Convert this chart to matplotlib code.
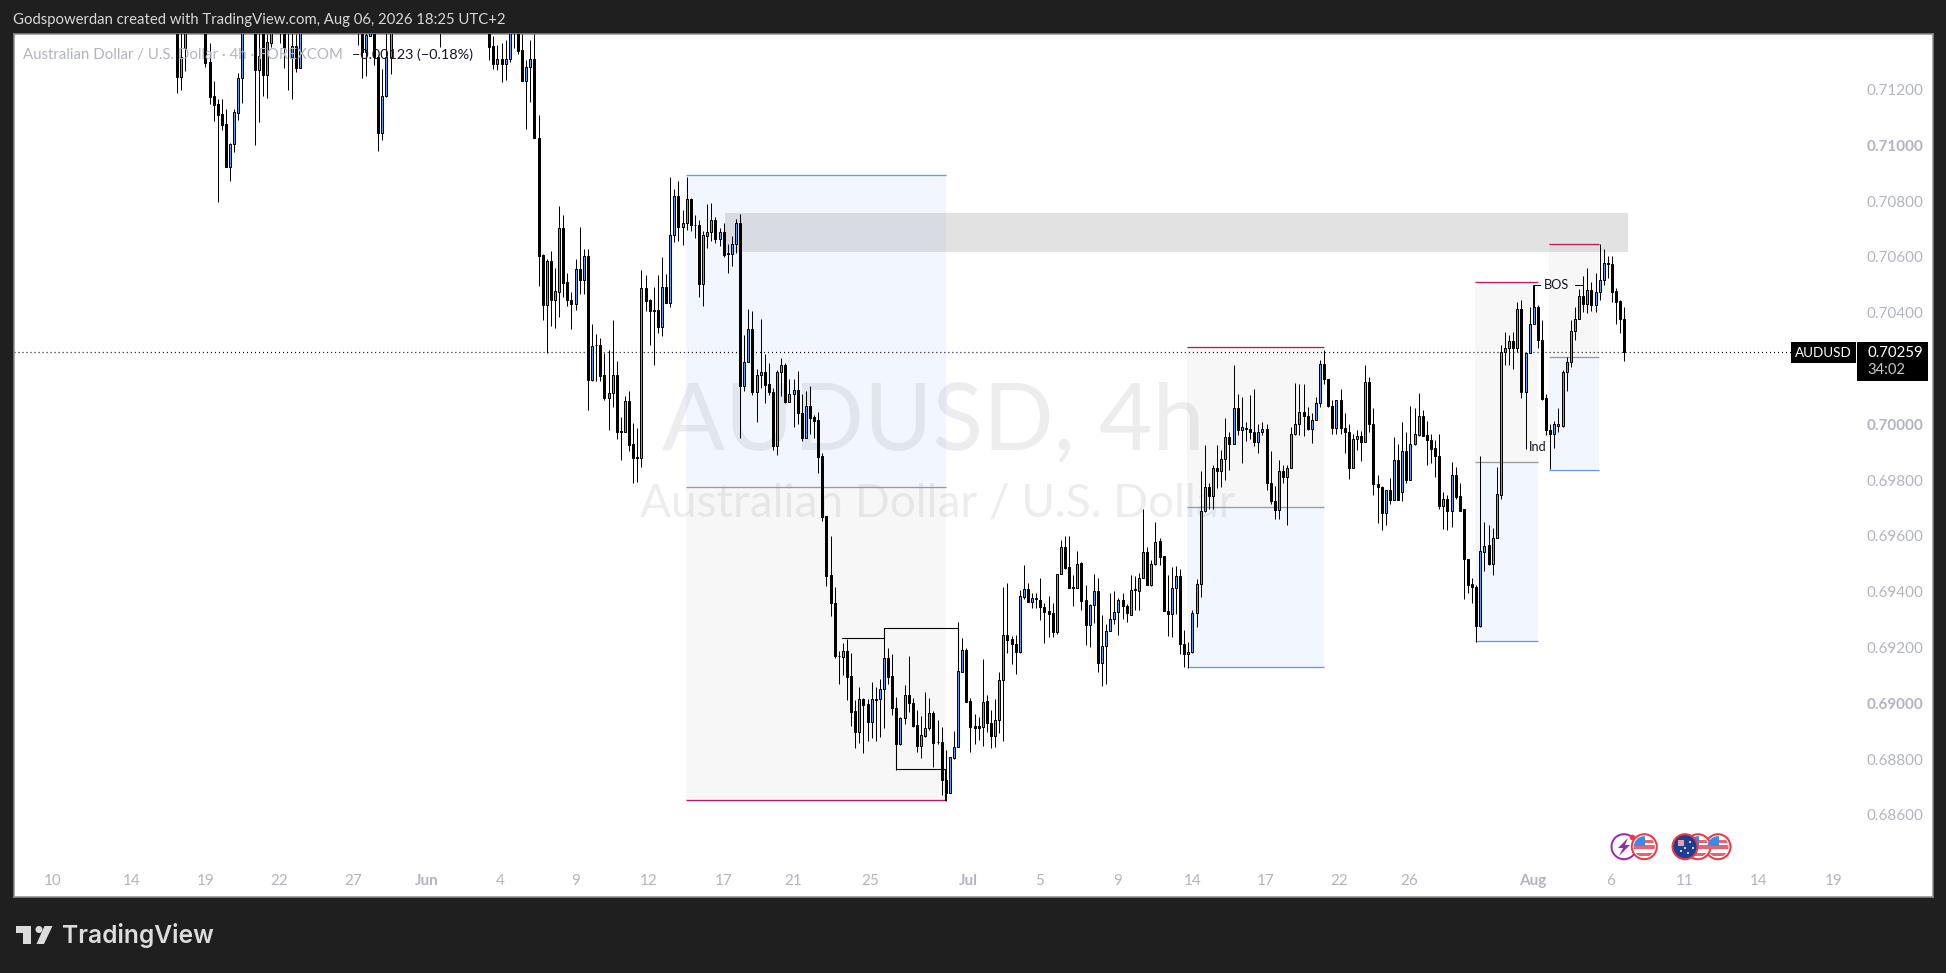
from matplotlib import pyplot as plt
from matplotlib.patches import Circle, Polygon, Rectangle

na = float('nan')

# prices in 1e-5 units, na = bar sits above the visible range
opens = [
    71450, 71246, 71348, na, na, na, na, 71420, 71298, 71176, 71148, 71112, 71076, 70923, 71005, 71117, 71243, na, na, 71440,
    71270, 71420, 71252, 71368, na, 71450, 71450, 71430, 71317, 71356, 71278, na, na, na, na, na, na, na, na, na,
    na, na, na, na, 71430, 71440, 71335, 71392, 71440, 71317, 71043, 71176, 71317, na, na, na, na, na, na, na,
    na, na, na, na, 71430, na, na, na, na, na, na, na, na, na, na, na,
    71430, 71356, 71290, 71308, 71293, 71311, 71430, 71430, 71341, 71231, 71279, 71308, 71028, 70606, 70427, 70585, 70445, 70475, 70702, 70510,
    70447, 70431, 70555, 70517, 70602, 70158, 70286, 70286, 70176, 70094, 70113, 70176, 69975, 69973, 70082, 69929, 69882, 69880, 70487, 70445,
    70410, 70409, 70350, 70491, 70436, 70677, 70817, 70708, 70720, 70806, 70716, 70713, 70502, 70676, 70690, 70734, 70664, 70688, 70614, 70612,
    70648, 70720, 70137, 70224, 70340, 70116, 70178, 70189, 70143, 70116, 69923, 70186, 70214, 70080, 70110, 70122, 70042, 69951, 70067, 70025,
    70014, 69886, 69671, 69460, 69361, 69171, 69167, 69187, 69097, 68972, 68898, 69014, 68996, 68934, 69015, 69014, 69050, 69161, 69097, 68982,
    68856, 68949, 69029, 69003, 68922, 68848, 68884, 68910, 68964, 68862, 68863, 68727, 68679, 68805, 68842, 69113, 69193, 69008, 68918, 68918,
    68916, 69008, 68928, 68884, 68942, 69085, 69244, 69230, 69214, 69185, 69382, 69409, 69364, 69378, 69372, 69344, 69330, 69323, 69256, 69462,
    69562, 69488, 69418, 69415, 69503, 69369, 69281, 69351, 69402, 69145, 69204, 69261, 69301, 69329, 69370, 69349, 69316, 69409, 69403, 69451,
    69541, 69426, 69498, 69583, 69527, 69332, 69322, 69415, 69457, 69214, 69178, 69184, 69325, 69429, 69690, 69777, 69744, 69845, 69833, 69877,
    69955, 69931, 70060, 69981, 69987, 69985, 69974, 69938, 69971, 69985, 69788, 69727, 69692, 69834, 69812, 69845, 69967, 70003, 70046, 70030,
    69984, 70017, 70075, 70218, 70161, 70065, 69987, 70089, 69987, 69971, 69844, 69947, 69960, 69938, 70150, 70002, 69787, 69777, 69683, 69766,
    69728, 69874, 69756, 69904, 69800, 69928, 69961, 70029, 69961, 69945, 69915, 69888, 69706, 69732, 69689, 69817, 69742, 69695, 69519, 69429,
    69417, 69276, 69543, 69567, 69500, 69594, 69748, 70260, 70274, 70297, 70272, 70415, 70116, 70254, 70359, 70420, 70304, 70093, 69981, 69967,
    69995, 69995, 70189, 70225, 70333, 70379, 70461, 70433, 70483, 70428, 70475, 70517, 70577, 70573, 70477, 70441, 70379,
]
highs = [
    71500, 71420, 71480, na, na, na, na, 71480, 71365, 71230, 71166, 71166, 71130, 71010, 71131, 71258, 71470, na, na, 71490,
    71420, 71460, 71400, 71440, na, 71480, 71480, 71470, 71420, 71400, 71450, na, na, na, na, na, na, na, na, na,
    na, na, na, na, 71450, 71480, 71420, 71430, 71470, 71323, 71272, 71420, 71450, na, na, na, na, na, na, na,
    na, na, na, na, 71460, na, na, na, na, na, na, na, na, na, na, na,
    71470, 71391, 71359, 71365, 71377, 71440, 71450, 71460, 71399, 71305, 71377, 71399, 71108, 70610, 70591, 70621, 70562, 70782, 70750, 70543,
    70475, 70592, 70708, 70628, 70628, 70359, 70323, 70311, 70256, 70266, 70373, 70226, 70027, 70101, 70119, 70005, 69987, 70553, 70535, 70451,
    70491, 70535, 70598, 70538, 70885, 70845, 70872, 70767, 70886, 70810, 70750, 70734, 70692, 70789, 70795, 70744, 70704, 70723, 70646, 70676,
    70735, 70753, 70319, 70415, 70406, 70200, 70377, 70251, 70220, 70132, 70196, 70239, 70220, 70161, 70161, 70190, 70108, 70119, 70137, 70035,
    70046, 69898, 69671, 69599, 69418, 69188, 69218, 69232, 69179, 69011, 69058, 69021, 69017, 69075, 69059, 69089, 69268, 69200, 69176, 69023,
    68952, 69065, 69169, 69021, 68975, 68955, 69041, 69021, 68973, 68940, 68916, 68832, 68806, 68900, 69292, 69236, 69197, 69021, 68961, 68952,
    69158, 69029, 68978, 69014, 69111, 69418, 69430, 69242, 69244, 69406, 69495, 69430, 69394, 69394, 69448, 69361, 69384, 69358, 69465, 69587,
    69599, 69599, 69459, 69546, 69507, 69424, 69356, 69462, 69451, 69316, 69284, 69394, 69403, 69376, 69394, 69355, 69459, 69456, 69469, 69695,
    69561, 69513, 69649, 69591, 69527, 69459, 69489, 69493, 69480, 69262, 69220, 69334, 69447, 69833, 69925, 69791, 69854, 69925, 69907, 70024,
    69973, 70212, 70108, 70099, 70009, 70104, 70126, 70003, 70009, 70003, 69905, 69778, 69872, 69854, 69854, 69989, 70149, 70146, 70144, 70063,
    70039, 70099, 70230, 70266, 70164, 70087, 70089, 70125, 70039, 70003, 69967, 69979, 69975, 70212, 70168, 70057, 69820, 69778, 69766, 69806,
    69953, 69931, 70009, 69973, 70065, 70057, 70113, 70053, 70012, 69967, 69943, 69965, 69758, 69746, 69865, 69848, 69790, 69698, 69519, 69451,
    69423, 69886, 69650, 69638, 69630, 69848, 70284, 70332, 70320, 70332, 70439, 70445, 70256, 70421, 70499, 70427, 70373, 70108, 70000, 70012,
    70057, 70194, 70242, 70373, 70419, 70485, 70531, 70559, 70511, 70541, 70645, 70630, 70603, 70603, 70487, 70445, 70421,
]
lows = [
    71188, 71200, 71267, na, na, na, na, 71279, 71148, 71088, 70798, 71055, 70923, 70873, 70977, 71090, 71152, na, na, 71001,
    71084, 71178, 71168, 71353, na, 71365, 71276, 71198, 71166, 71264, 71278, na, na, na, na, na, na, na, na, na,
    na, na, na, na, 71359, 71242, 71248, 71392, 71288, 70980, 71019, 71174, 71254, na, na, na, na, na, na, na,
    na, na, na, na, 71351, na, na, na, na, na, na, na, na, na, na, na,
    71305, 71272, 71270, 71228, 71234, 71299, 71350, 71327, 71231, 71058, 71156, 71027, 70495, 70373, 70254, 70352, 70346, 70385, 70457, 70425,
    70341, 70409, 70467, 70467, 70051, 70156, 70156, 70156, 70089, 69979, 70063, 69948, 69872, 69973, 69904, 69790, 69794, 69848, 70406, 70284,
    70212, 70326, 70317, 70436, 70421, 70654, 70658, 70642, 70696, 70692, 70669, 70457, 70424, 70633, 70658, 70650, 70639, 70600, 70543, 70567,
    70615, 69951, 70120, 70224, 70104, 70009, 70131, 70077, 70104, 69907, 69889, 70101, 70077, 70080, 69991, 70000, 69941, 69951, 69965, 69951,
    69826, 69654, 69421, 69314, 69163, 69070, 69101, 69011, 68919, 68841, 68858, 68823, 68866, 68876, 68864, 68880, 68910, 69071, 68959, 68760,
    68850, 68925, 68970, 68916, 68826, 68805, 68878, 68906, 68772, 68856, 68671, 68650, 68677, 68802, 68842, 69113, 69005, 68826, 68856, 68868,
    68848, 68898, 68841, 68844, 68894, 68866, 69182, 69140, 69105, 69179, 69375, 69362, 69342, 69340, 69298, 69217, 69238, 69238, 69250, 69462,
    69480, 69414, 69350, 69415, 69334, 69210, 69203, 69289, 69111, 69063, 69068, 69259, 69283, 69246, 69304, 69290, 69316, 69334, 69334, 69451,
    69424, 69420, 69495, 69495, 69332, 69241, 69238, 69322, 69178, 69131, 69127, 69182, 69274, 69382, 69686, 69698, 69696, 69773, 69776, 69802,
    69838, 69931, 69961, 69862, 69941, 69946, 69923, 69899, 69961, 69764, 69716, 69662, 69662, 69790, 69638, 69844, 69961, 69961, 69957, 69979,
    69934, 70015, 70063, 70144, 70063, 69967, 69967, 69967, 69898, 69805, 69842, 69907, 69869, 69937, 69973, 69746, 69647, 69623, 69638, 69714,
    69728, 69728, 69726, 69788, 69800, 69925, 69957, 69957, 69854, 69860, 69812, 69695, 69626, 69623, 69632, 69734, 69690, 69374, 69394, 69360,
    69220, 69272, 69475, 69495, 69459, 69594, 69734, 70212, 70212, 70200, 70260, 70093, 69913, 70254, 70359, 70272, 70087, 69961, 69840, 69917,
    69971, 69991, 70119, 70206, 70302, 70377, 70403, 70400, 70406, 70403, 70447, 70500, 70525, 70439, 70361, 70328, 70228,
]
closes = [
    71246, 71315, 71460, na, na, na, na, 71296, 71174, 71145, 71109, 71074, 70923, 71005, 71118, 71243, 71420, na, na, 71270,
    71320, 71252, 71369, 71410, na, 71420, 71348, 71420, 71356, 71278, 71420, na, na, na, na, na, na, na, na, na,
    na, na, na, na, 71410, 71335, 71395, 71410, 71317, 71043, 71176, 71317, 71420, na, na, na, na, na, na, na,
    na, na, na, na, 71420, na, na, na, na, na, na, na, na, na, na, na,
    71353, 71290, 71308, 71293, 71311, 71420, 71420, 71339, 71231, 71279, 71308, 71027, 70603, 70427, 70585, 70445, 70477, 70702, 70507, 70445,
    70431, 70555, 70517, 70602, 70158, 70281, 70283, 70173, 70094, 70114, 70176, 69973, 69973, 70082, 69925, 69880, 69880, 70487, 70443, 70407,
    70408, 70350, 70491, 70436, 70677, 70817, 70708, 70720, 70806, 70714, 70713, 70502, 70677, 70691, 70734, 70664, 70688, 70606, 70612, 70648,
    70720, 70137, 70224, 70340, 70116, 70178, 70189, 70140, 70116, 69923, 70186, 70214, 70080, 70110, 70122, 70041, 69951, 70067, 70023, 70012,
    69883, 69669, 69457, 69360, 69169, 69168, 69187, 69095, 68970, 68898, 69014, 68995, 68934, 69014, 69013, 69051, 69161, 69095, 68982, 68856,
    68949, 69029, 69002, 68919, 68848, 68886, 68910, 68964, 68858, 68860, 68727, 68679, 68806, 68842, 69115, 69193, 69005, 68916, 68913, 68913,
    69005, 68928, 68884, 68942, 69085, 69244, 69226, 69212, 69185, 69384, 69409, 69364, 69376, 69375, 69344, 69328, 69321, 69256, 69462, 69562,
    69485, 69414, 69415, 69501, 69367, 69281, 69352, 69401, 69145, 69204, 69261, 69301, 69329, 69369, 69349, 69325, 69408, 69407, 69451, 69541,
    69426, 69498, 69579, 69525, 69332, 69322, 69415, 69457, 69214, 69178, 69184, 69325, 69429, 69690, 69777, 69744, 69845, 69833, 69877, 69955,
    69931, 70060, 69981, 69989, 69985, 69974, 69938, 69971, 69984, 69788, 69726, 69692, 69834, 69812, 69845, 69967, 70003, 70046, 70030, 69984,
    70017, 70075, 70218, 70161, 70065, 69987, 70089, 69987, 69973, 69844, 69949, 69960, 69938, 70150, 70002, 69787, 69776, 69683, 69766, 69728,
    69874, 69730, 69904, 69800, 69931, 69964, 70029, 69959, 69943, 69913, 69886, 69706, 69732, 69689, 69817, 69738, 69690, 69517, 69426, 69417,
    69276, 69545, 69564, 69500, 69594, 69750, 70261, 70274, 70297, 70272, 70415, 70116, 70254, 70359, 70420, 70304, 70090, 69981, 69967, 70000,
    70000, 70189, 70225, 70333, 70379, 70461, 70433, 70483, 70428, 70476, 70517, 70577, 70573, 70475, 70439, 70379, 70258,
]

price_ticks = [71200, 71000, 70800, 70600, 70400, 70000, 69800, 69600, 69400, 69200, 69000, 68800, 68600]
bold_prices = [71000, 70000, 69000]

# bar index of each date label
date_bars = [-30.1, -11, 7, 24.9, 42.9, 60.8, 78.7, 97.1, 114.8, 132.9, 149.8, 168.7, 192.5, 209.9, 228.8, 247,
             264.9, 282.7, 299.8, 329.7, 348.6, 366.7, 384.7, 402.8]
date_labels = ['10', '14', '19', '22', '27', 'Jun', '4', '9', '12', '17', '21', '25', 'Jul', '5', '9', '14',
               '17', '22', '26', 'Aug', '6', '11', '14', '19']
bold_dates = ['Jun', 'Jul', 'Aug']

# position tool drawings: start bar, end bar, top, middle, bottom
position_a = [123.8, 187.0, 70893, 69774, 68653]
position_b = [245.7, 279.0, 70277, 69703, 69129]
position_c = [315.7, 330.9, 70509, 69864, 69222]
position_d = [333.7, 345.8, 70645, 70240, 69835]
supply_zone = [133.4, 353.0, 70618, 70756]
last_price = 70259

TEXT_GRAY = '#b2b5be'
BLUE = '#5b9cf6'
RED = '#c2185b'
ZONE_BLUE = '#2f80ff'
ZONE_GRAY = '#787b86'
FONT = 'Lato'


def px(v):
    return v * 0.72


def draw_position(ax, pos, top_fill, bottom_fill, top_line, bottom_line):
    x0, x1, top, mid, bot = pos
    alpha = {ZONE_BLUE: 0.06, ZONE_GRAY: 0.055}
    ax.add_patch(Rectangle((x0, mid / 1e5), x1 - x0, (top - mid) / 1e5, fc=top_fill, alpha=alpha[top_fill], ec='none', zorder=1))
    ax.add_patch(Rectangle((x0, bot / 1e5), x1 - x0, (mid - bot) / 1e5, fc=bottom_fill, alpha=alpha[bottom_fill], ec='none', zorder=1))
    ax.hlines(top / 1e5, x0, x1, color=top_line, lw=px(1.3), zorder=2)
    ax.hlines(mid / 1e5, x0, x1, color='#9a9a9a', lw=px(1.3), zorder=2)
    ax.hlines(bot / 1e5, x0, x1, color=bottom_line, lw=px(1.3), zorder=2)


def draw_flag(ov, cx, cy):
    ov.add_patch(Circle((cx, cy), 12.5, fc='white', ec='#f23645', lw=px(2), zorder=5))
    clip = Circle((cx, cy), 10.5, transform=ov.transData)
    for dy in (-1.5, 6):
        r = Rectangle((cx - 11, cy + dy), 22, 3.5, fc='#f0606a', ec='none', zorder=6)
        ov.add_patch(r)
        r.set_clip_path(clip)
    r = Rectangle((cx - 11, cy - 11), 12, 10, fc='#3d8be8', ec='none', zorder=6)
    ov.add_patch(r)
    r.set_clip_path(clip)
    r = Rectangle((cx + 1, cy - 7), 10, 3, fc='#f0606a', ec='none', zorder=6)
    ov.add_patch(r)
    r.set_clip_path(clip)


fig = plt.figure(figsize=(19.46, 9.73), dpi=100, facecolor='#1f1f1f')
W, H = 1946, 973
left, right, top_px, bottom_px = 14, 1932.7, 34, 897
ax = fig.add_axes([left / W, 1 - bottom_px / H, (right - left) / W, (bottom_px - top_px) / H])
ax.set_facecolor('white')

n = len(closes)
step = (1624.3 - 176.7) / (n - 1)
ax.set_xlim((left - 176.7) / step, (right - 176.7) / step)
ax.set_ylim(68306 / 1e5, 71399 / 1e5)

# watermark
ax.text(184, 70005 / 1e5, 'AUDUSD, 4h', fontsize=67, family=FONT, color='#000000', alpha=0.07,
        ha='center', va='center', zorder=0)
ax.text(185, 69718 / 1e5, 'Australian Dollar / U.S. Dollar', fontsize=33, family=FONT, color='#000000',
        alpha=0.07, ha='center', va='center', zorder=0)

draw_position(ax, position_a, ZONE_BLUE, ZONE_GRAY, BLUE, RED)
draw_position(ax, position_b, ZONE_GRAY, ZONE_BLUE, RED, BLUE)
draw_position(ax, position_c, ZONE_GRAY, ZONE_BLUE, RED, BLUE)
draw_position(ax, position_d, ZONE_GRAY, ZONE_BLUE, RED, BLUE)

z0, z1, zlo, zhi = supply_zone
ax.add_patch(Rectangle((z0, zlo / 1e5), z1 - z0, (zhi - zlo) / 1e5, fc='#838383', alpha=0.23, ec='none', zorder=1.5))

# last price line
ax.plot([(left - 176.7) / step, (1791 - 176.7) / step], [last_price / 1e5] * 2, color='black', lw=px(1.2),
        dashes=(0.84, 2.5), zorder=2)

# structure lines
ax.plot([161.8, 171.9, 171.9, 190.0, 190.0], [0.69233, 0.69233, 0.69269, 0.69269, 0.69150], color='black', lw=px(1.1), zorder=2.5)
ax.plot([174.8, 174.8, 186.9, 186.9], [0.69000, 0.68763, 0.68763, 0.68653], color='black', lw=px(1.1), zorder=2.5)
ax.plot([329.8, 329.8, 331.4], [0.70421, 0.70501, 0.70501], color='black', lw=px(1), zorder=2.5)
ax.plot([340.1, 341.9], [0.70501, 0.70501], color='black', lw=px(1), zorder=2.5)
ax.text(335.5, 0.70501, 'BOS', fontsize=9.2, family=FONT, color='#131722', ha='center', va='center', zorder=4)
ax.text(330.9, 0.69919, 'Ind', fontsize=9.2, family=FONT, color='#131722', ha='center', va='center', zorder=4)

# candles
idx = range(n)
ax.vlines(list(idx), [v / 1e5 for v in lows], [v / 1e5 for v in highs], color='black', lw=px(1), zorder=3)
up_x, up_b, up_h, dn_x, dn_b, dn_h = [], [], [], [], [], []
for i in idx:
    o, c = opens[i], closes[i]
    if o != o:
        continue
    if c >= o:
        up_x.append(i)
        up_b.append(o / 1e5)
        up_h.append((c - o) / 1e5)
    else:
        dn_x.append(i)
        dn_b.append(c / 1e5)
        dn_h.append((o - c) / 1e5)
ax.bar(up_x, up_h, bottom=up_b, width=2.0 / step, color=BLUE, edgecolor='black', lw=px(1), zorder=3.2)
ax.bar(dn_x, dn_h, bottom=dn_b, width=2.0 / step, color='black', edgecolor='black', lw=px(1), zorder=3.2)

# axis text sits inside the plot area
ax.yaxis.tick_right()
ax.set_yticks([v / 1e5 for v in price_ticks])
ax.set_yticklabels(['%.5f' % (v / 1e5) for v in price_ticks], fontsize=11, family=FONT, color=TEXT_GRAY)
ax.tick_params(axis='y', length=0, pad=-px(66))
for lab, v in zip(ax.get_yticklabels(), price_ticks):
    lab.set_horizontalalignment('left')
    if v in bold_prices:
        lab.set_fontweight('bold')
ax.set_xticks(date_bars)
ax.set_xticklabels(date_labels, fontsize=11, family=FONT, color=TEXT_GRAY)
ax.tick_params(axis='x', length=0, pad=-px(23))
for lab in ax.get_xticklabels():
    lab.set_zorder(6)
    if lab.get_text() in bold_dates:
        lab.set_fontweight('bold')
for s in ax.spines.values():
    s.set_color('#8c8c8c')
    s.set_linewidth(px(1.5))

# overlay in pixel coordinates for page furniture
ov = fig.add_axes([0, 0, 1, 1], facecolor='none')
ov.set_xlim(0, W)
ov.set_ylim(H, 0)
ov.axis('off')

ov.text(13, 20, 'Godspowerdan created with TradingView.com, Aug 06, 2026 18:25 UTC+2', fontsize=10.7, family=FONT,
        color='#d8d8d8', va='center')
ov.text(23, 54.5, 'Australian Dollar / U.S. Dollar · 4h · FOREXCOM', fontsize=10.85, family=FONT, color=TEXT_GRAY, va='center')
ov.text(352, 54.5, '\u22120.00123 (\u22120.18%)', fontsize=10.4, family=FONT, color='#131722', va='center')

# price labels
ov.add_patch(Rectangle((1791, 342.3), 64.7, 20.4, fc='black', ec='none', zorder=5))
ov.add_patch(Rectangle((1857, 342.3), 70.7, 38.4, fc='black', ec='none', zorder=5))
ov.text(1823.4, 352.6, 'AUDUSD', fontsize=9.7, family=FONT, color='white', ha='center', va='center', zorder=6)
ov.text(1867.5, 352.6, '0.70259', fontsize=10.8, family=FONT, color='white', va='center', zorder=6)
ov.text(1867.5, 370.5, '34:02', fontsize=10.6, family=FONT, color='#c8c8c8', va='center', zorder=6)

# event icons
ov.add_patch(Circle((1624, 846.7), 12.5, fc='white', ec='#9c27b0', lw=px(2), zorder=4))
ov.add_patch(Polygon([(1628, 838), (1618, 848), (1623, 848), (1619, 856), (1630, 845), (1625, 845)], fc='#9c27b0', ec='none', zorder=4.5))
draw_flag(ov, 1644.3, 846.7)
ov.add_patch(Circle((1632.5, 837.5), 2.8, fc='#f23645', ec='none', zorder=7))
draw_flag(ov, 1718, 846.7)
draw_flag(ov, 1698, 846.7)
ov.add_patch(Circle((1685, 846.7), 12.5, fc='#1c3f94', ec='#f23645', lw=px(2), zorder=8))
for sx, sy in [(1690, 842), (1693, 848), (1688, 853), (1681, 851), (1685, 848)]:
    ov.add_patch(Circle((sx, sy), 1, fc='white', ec='none', zorder=9))
ov.add_patch(Rectangle((1678, 840), 6, 6, fc='#e8a0a8', ec='none', zorder=9))

# logo
logo = '#dcdcdc'
ov.add_patch(Polygon([(15.7, 926), (30.7, 926), (30.7, 944), (23.3, 944), (23.3, 933), (15.7, 933)], fc=logo, ec='none'))
ov.add_patch(Circle((39, 929.5), 3.5, fc=logo, ec='none'))
ov.add_patch(Polygon([(44.5, 926), (52.5, 926), (44, 944), (36.5, 944)], fc=logo, ec='none'))
ov.text(62, 936, 'TradingView', fontsize=17.7, family='Inter', weight='semibold', color=logo, va='center')

fig.savefig('out.png', dpi=100, facecolor=fig.get_facecolor())
